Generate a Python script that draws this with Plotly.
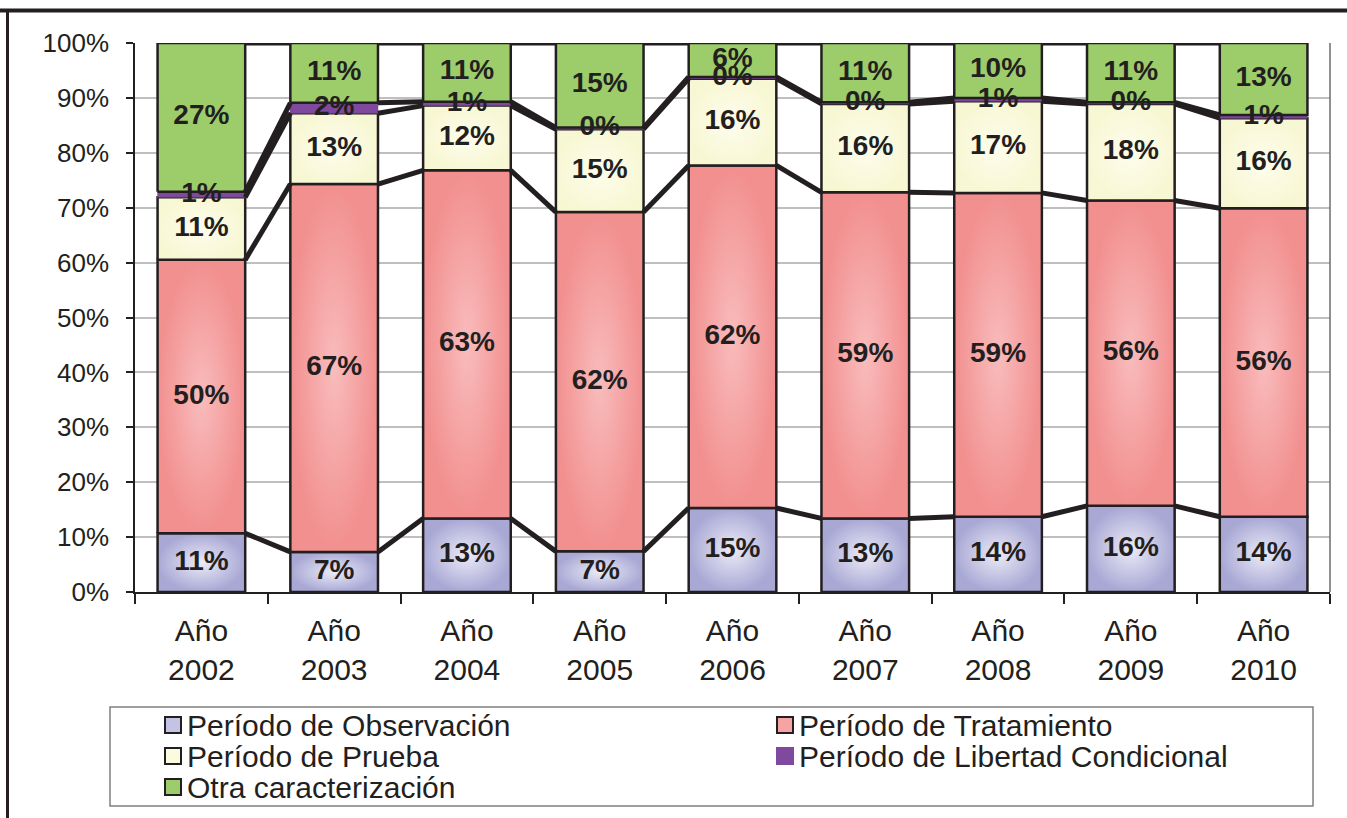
import plotly.graph_objects as go

# Share of cases by period (%), per year
years = ["2002", "2003", "2004", "2005", "2006", "2007", "2008", "2009", "2010"]
tick_labels = ["Año<br>2002", "Año<br>2003", "Año<br>2004", "Año<br>2005", "Año<br>2006",
               "Año<br>2007", "Año<br>2008", "Año<br>2009", "Año<br>2010"]
y_ticks = [0, 10, 20, 30, 40, 50, 60, 70, 80, 90, 100]
y_tick_labels = ["0%", "10%", "20%", "30%", "40%", "50%", "60%", "70%", "80%", "90%", "100%"]

observacion = [10.7, 7.3, 13.4, 7.4, 15.3, 13.4, 13.7, 15.7, 13.7]
tratamiento = [49.8, 67.0, 63.4, 61.8, 62.4, 59.4, 59.0, 55.6, 56.2]
prueba = [11.4, 12.9, 11.8, 15.1, 15.8, 16.1, 16.7, 17.6, 16.4]
libertad = [1.0, 1.9, 0.7, 0.3, 0.3, 0.3, 0.6, 0.3, 0.6]
otra = [27.1, 10.9, 10.7, 15.4, 6.2, 10.8, 10.0, 10.8, 13.1]

series_names = ["Período de Observación", "Período de Tratamiento", "Período de Prueba",
                "Período de Libertad Condicional", "Otra caracterización"]
series_values = [observacion, tratamiento, prueba, libertad, otra]

# Fill styles: edge colour, centre colour, outline colour / width
edge_colors = ["#a9a8d5", "#f28f8f", "#f8f7d4", "#7f4a9d", "#9dcd6a"]
center_colors = ["#ebebf7", "#f9bcbc", "#fdfdee", "#7f4a9d", "#9dcd6a"]
swatch_colors = ["#c4c3e3", "#f5a3a3", "#fbfbe0", "#7f4a9d", "#9dcd6a"]
outline_colors = ["#231f20", "#231f20", "#231f20", "#7f4a9d", "#231f20"]
outline_widths = [2.5, 2.5, 2.5, 0.5, 2.5]

INK = "#231f20"
FONT = "Arial, Liberation Sans, sans-serif"
BW = 0.66  # bar width in category units

# Figure geometry (px) used for placing the legend block
W, H = 1347, 818
ML, MR, MT, MB = 135, 17, 43, 226
PW, PH = W - ML - MR, H - MT - MB


def px_x(px):
    return (px - ML) / PW


def px_y(py):
    return (H - MB - py) / PH


xs = list(range(len(years)))
fig = go.Figure()

# Base stacked bars
for name, vals, ec in zip(series_names, series_values, edge_colors):
    fig.add_trace(go.Bar(
        x=xs, y=vals, name=name, width=BW, showlegend=False,
        marker=dict(color=ec, line=dict(width=0)), hoverinfo="skip",
    ))

# Shaded segments over the bars, lighter towards the centre
cum_tops = []
bottom = [0.0] * len(xs)
for k, vals in enumerate(series_values):
    top = [b + v for b, v in zip(bottom, vals)]
    for j in xs:
        px = [j - BW / 2, j + BW / 2, j + BW / 2, j - BW / 2, j - BW / 2]
        py = [bottom[j], bottom[j], top[j], top[j], bottom[j]]
        kw = {}
        if center_colors[k] != edge_colors[k]:
            kw["fillgradient"] = dict(type="radial",
                                      colorscale=[[0, center_colors[k]], [1, edge_colors[k]]])
        else:
            kw["fillcolor"] = edge_colors[k]
        fig.add_trace(go.Scatter(
            x=px, y=py, mode="lines", fill="toself",
            line=dict(color=outline_colors[k], width=outline_widths[k]),
            showlegend=False, hoverinfo="skip", **kw,
        ))
    cum_tops.append(top)
    bottom = top

# Series lines joining each stack level between neighbouring bars
lx, ly = [], []
for top in cum_tops:
    for j in xs[:-1]:
        lx += [j + BW / 2, j + 1 - BW / 2, None]
        ly += [top[j], top[j + 1], None]
fig.add_trace(go.Scatter(x=lx, y=ly, mode="lines", line=dict(color=INK, width=5),
                         showlegend=False, hoverinfo="skip"))

# Data labels centred in each segment
tx, ty, tt = [], [], []
bottom = [0.0] * len(xs)
for vals, top in zip(series_values, cum_tops):
    for j in xs:
        tx.append(j)
        ty.append((bottom[j] + top[j]) / 2)
        tt.append(f"{vals[j]:.0f}%")
    bottom = top
fig.add_trace(go.Scatter(x=tx, y=ty, text=tt, mode="text",
                         textfont=dict(family=FONT, size=28, color=INK, weight="bold"),
                         textposition="middle center", showlegend=False, hoverinfo="skip"))

# Legend block: two columns, filled row by row
legend_box = dict(type="rect", xref="paper", yref="paper",
                  x0=px_x(110), x1=px_x(1313), y0=px_y(806), y1=px_y(707),
                  line=dict(color="#808080", width=1.5), fillcolor="white", layer="above")
shapes = [legend_box]
annotations = []
col_swatch_left = [165, 777]
row_centers = [725, 756, 787]
SW = 16
for k, name in enumerate(series_names):
    row, col = divmod(k, 2)
    cx, cy = col_swatch_left[col], row_centers[row]
    shapes.append(dict(
        type="rect", xref="paper", yref="paper",
        x0=px_x(cx), x1=px_x(cx + SW), y0=px_y(cy + SW / 2), y1=px_y(cy - SW / 2),
        fillcolor=swatch_colors[k],
        line=dict(color=INK if outline_widths[k] > 1 else swatch_colors[k], width=2),
        layer="above",
    ))
    annotations.append(dict(
        text=name, xref="paper", yref="paper", x=px_x(cx + SW + 4), y=px_y(cy),
        xanchor="left", yanchor="middle", showarrow=False,
        font=dict(family=FONT, size=30, color=INK),
    ))

shapes += [
    # plot-area right border
    dict(type="line", xref="paper", yref="paper", x0=1, x1=1, y0=0, y1=1,
         line=dict(color="#6d6d6d", width=1.5)),
    # outer frame: top and left edges
    dict(type="line", xref="paper", yref="paper", x0=px_x(0), x1=px_x(W), y0=px_y(10.5), y1=px_y(10.5),
         line=dict(color=INK, width=4)),
    dict(type="line", xref="paper", yref="paper", x0=px_x(7.5), x1=px_x(7.5), y0=px_y(H + 5), y1=px_y(9),
         line=dict(color=INK, width=3)),
]

fig.update_layout(
    width=W, height=H,
    margin=dict(l=ML, r=MR, t=MT, b=MB, autoexpand=False),
    paper_bgcolor="white", plot_bgcolor="white",
    barmode="stack", bargap=0,
    font=dict(family=FONT, color=INK),
    showlegend=False,
    xaxis=dict(
        range=[-0.5, 8.5], tickmode="array", tickvals=xs, ticktext=tick_labels,
        ticks="", showgrid=False, zeroline=False,
        showline=True, linecolor=INK, linewidth=1.5,
        tickfont=dict(family=FONT, size=30, color=INK), ticklabelstandoff=11,
        minor=dict(tickmode="array", tickvals=[j - 0.5 for j in range(len(years) + 1)],
                   ticks="outside", ticklen=10, tickcolor=INK, tickwidth=1.5, showgrid=False),
    ),
    yaxis=dict(
        range=[0, 100], tickmode="array", tickvals=y_ticks, ticktext=y_tick_labels,
        ticks="outside", ticklen=7, tickcolor=INK, tickwidth=1.5,
        showline=True, linecolor=INK, linewidth=1.5,
        showgrid=True, gridcolor="#bfbfbf", gridwidth=1.5, zeroline=False,
        tickfont=dict(family=FONT, size=26, color=INK), ticklabelstandoff=12,
    ),
    shapes=shapes,
    annotations=annotations,
)

fig.write_html("out.html")
